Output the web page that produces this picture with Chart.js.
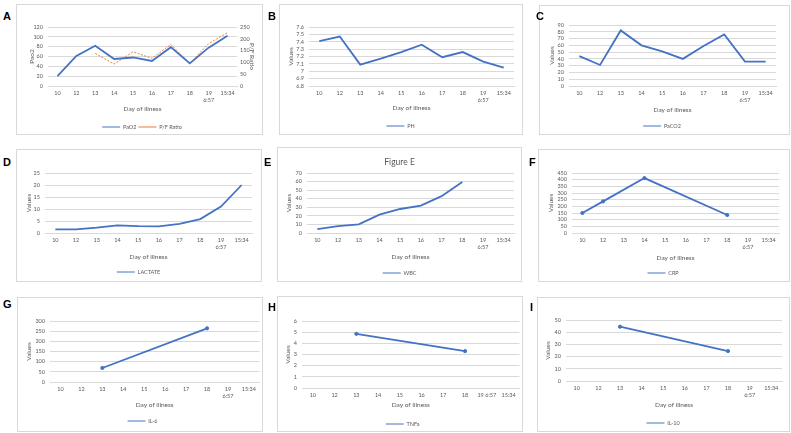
<!DOCTYPE html>
<html>
<head>
<meta charset="utf-8">
<script src="https://cdn.jsdelivr.net/npm/chart.js@4.4.0/dist/chart.umd.min.js"></script>
<style>
  body { margin: 0; background: #fff; width: 791px; height: 433px; position: relative; overflow: hidden; }
  .panel { position: absolute; border: 1px solid #d9d9d9; box-sizing: border-box; }
  .panel canvas { position: absolute; left: 0; top: 0; }
  .letter { position: absolute; font: bold 11px "Liberation Sans", Arial, sans-serif; color: #000; line-height: 1; }
</style>
</head>
<body>
<script>
// day of illness categories
const dayLabels = ["10", "12", "13", "14", "15", "16", "17", "18", ["19", "6:57"], "15:34"];
const dayLabelsH = ["10", "12", "13", "14", "15", "16", "17", "18", "19 6:57", "15:34"];

// series values
const pao2 = [20, 61, 82, 55, 58, 51, 79, 46, 78, 102];
const pfRatio = [null, null, 138, 93, 145, 117, 176, 96, 180, 226];
const ph = [7.41, 7.47, 7.09, 7.17, 7.26, 7.36, 7.19, 7.26, 7.13, 7.05];
const paco2 = [44, 31, 82, 60, 51, 40, 59, 76, 36, 36];
const lactate = [1.5, 1.5, 2.2, 3.2, 2.9, 2.8, 3.8, 5.8, 11, 20];
const wbc = [4.5, 8, 10, 21.5, 28, 32, 43, 59.5, null, null];
const crp = [150, 237, null, 412, null, null, null, 135, null, null];
const il6 = [null, null, 69, null, null, null, null, 264, null, null];
const tnfa = [null, null, 4.85, null, null, null, null, 3.3, null, null];
const il10 = [null, null, 44.5, null, null, null, null, 24.5, null, null];

const BLUE = "#4472c4";
const ORANGE = "#ed7d31";
const GRID = "#d9d9d9";
const TXT = "#595959";

Chart.defaults.font.family = "Lato, 'Liberation Sans', sans-serif";
Chart.defaults.color = TXT;
Chart.defaults.animation = false;

const TICK = 5.5;
const AXT = 6.5;
const LEG = 5.5;
const LEG_PAD = 2;

function addLetter(text, x, y) {
  const d = document.createElement("div");
  d.className = "letter";
  d.textContent = text;
  d.style.left = x + "px";
  d.style.top = y + "px";
  document.body.appendChild(d);
}

function makeSeries(label, data, opts = {}) {
  return {
    label,
    data,
    borderColor: opts.color || BLUE,
    backgroundColor: opts.color || BLUE,
    borderWidth: opts.width || 1.8,
    borderDash: opts.dash || [],
    pointRadius: opts.markers ? 1.6 : 0,
    pointBorderWidth: 1,
    pointHoverRadius: 0,
    pointStyle: "circle",
    yAxisID: opts.axis || "y",
    spanGaps: true,
    tension: 0,
  };
}

function makePanel(spec) {
  const box = spec.box;
  const wrap = document.createElement("div");
  wrap.className = "panel";
  wrap.style.left = box.l + "px";
  wrap.style.top = box.t + "px";
  wrap.style.width = box.w + "px";
  wrap.style.height = box.h + "px";
  const canvas = document.createElement("canvas");
  const W = box.w - 2;
  const H = box.h - 2;
  canvas.width = W;
  canvas.height = H;
  canvas.style.width = W + "px";
  canvas.style.height = H + "px";
  wrap.appendChild(canvas);
  document.body.appendChild(wrap);

  const ox = box.l + 1;
  const oy = box.t + 1;
  const a = spec.area;
  const YW = a.l - spec.yTitleX + AXT * 0.6;
  const RW = spec.y1 ? spec.y1TitleX - a.r + AXT * 0.6 : 0;
  const XH = spec.legendY - a.b - LEG_PAD - LEG / 2;
  const xTitlePadB = XH - (spec.xTitleY - a.b) - AXT * 0.6;
  const LH = LEG + LEG_PAD + 10;

  let topPad = a.t - oy;
  let titleOpts = { display: false };
  if (spec.title) {
    topPad = spec.titleY - oy - 5.1;
    titleOpts = {
      display: true,
      text: spec.title,
      color: TXT,
      font: { size: 8.5, weight: "normal" },
      padding: { top: 0, bottom: a.t - oy - topPad - 10.2 },
    };
  }

  const scales = {
    x: {
      type: "category",
      offset: true,
      grid: { display: false, drawTicks: false },
      border: { display: true, color: GRID },
      ticks: { color: TXT, font: { size: TICK }, padding: 4, maxRotation: 0, autoSkip: false },
      title: {
        display: true,
        text: spec.xTitle || "Day of illness",
        color: TXT,
        font: { size: AXT },
        padding: { top: 0, bottom: xTitlePadB },
      },
      afterFit(scale) {
        scale.height = XH;
      },
    },
    y: {
      position: "left",
      min: spec.y.min,
      max: spec.y.max,
      grid: { color: GRID, drawTicks: false },
      border: { display: false },
      ticks: {
        stepSize: spec.y.step,
        autoSkip: false,
        color: TXT,
        font: { size: TICK },
        padding: 5,
        callback: (v) => String(Math.round(v * 10) / 10),
      },
      title: { display: true, text: spec.y.title || "Values", color: TXT, font: { size: AXT }, padding: 0 },
      afterFit(scale) {
        scale.width = YW;
      },
    },
  };
  if (spec.y1) {
    scales.y1 = {
      position: "right",
      min: spec.y1.min,
      max: spec.y1.max,
      grid: { display: false, drawTicks: false },
      border: { display: false },
      ticks: { stepSize: spec.y1.step, autoSkip: false, color: TXT, font: { size: TICK }, padding: 3 },
      title: { display: true, text: spec.y1.title, color: TXT, font: { size: AXT }, padding: 0 },
      afterFit(scale) {
        scale.width = RW;
      },
    };
  }

  return new Chart(canvas, {
    type: "line",
    data: { labels: spec.labels, datasets: spec.datasets },
    options: {
      responsive: false,
      layout: {
        padding: {
          left: a.l - ox - YW,
          right: ox + W - a.r - RW,
          top: topPad,
          bottom: oy + H - a.b - XH - LH,
        },
      },
      scales,
      plugins: {
        title: titleOpts,
        tooltip: { enabled: false },
        legend: {
          position: "bottom",
          labels: {
            usePointStyle: true,
            pointStyle: "line",
            pointStyleWidth: 18,
            color: TXT,
            font: { size: LEG },
            padding: LEG_PAD,
          },
        },
      },
    },
  });
}

// A
makePanel({
  box: { l: 16, t: 4, w: 247, h: 131 },
  area: { l: 48, r: 237, t: 27, b: 86 },
  yTitleX: 32, y1TitleX: 252, xTitleY: 109, legendY: 127,
  labels: dayLabels,
  y: { min: 0, max: 120, step: 20, title: "Pao2" },
  y1: { min: 0, max: 250, step: 50, title: "P/F Ratio" },
  datasets: [
    makeSeries("PaO2", pao2),
    makeSeries("P/F Ratio", pfRatio, { color: ORANGE, dash: [2, 1.5], width: 1, axis: "y1" }),
  ],
});
// B
makePanel({
  box: { l: 279, t: 4, w: 244, h: 131 },
  area: { l: 309, r: 514, t: 27, b: 86 },
  yTitleX: 291, xTitleY: 108, legendY: 126,
  labels: dayLabels,
  y: { min: 6.8, max: 7.6, step: 0.1 },
  datasets: [makeSeries("PH", ph)],
});
// C
makePanel({
  box: { l: 539, t: 5, w: 251, h: 130 },
  area: { l: 569, r: 776, t: 25, b: 86 },
  yTitleX: 552, xTitleY: 110, legendY: 126,
  labels: dayLabels,
  y: { min: 0, max: 90, step: 10 },
  datasets: [makeSeries("PaCO2", paco2)],
});
// D
makePanel({
  box: { l: 16, t: 149, w: 246, h: 133 },
  area: { l: 45, r: 252, t: 173, b: 233 },
  yTitleX: 29, xTitleY: 257, legendY: 272,
  labels: dayLabels,
  y: { min: 0, max: 25, step: 5 },
  datasets: [makeSeries("LACTATE", lactate)],
});
// E
makePanel({
  box: { l: 277, t: 147, w: 245, h: 135 },
  area: { l: 307, r: 514, t: 173, b: 233 },
  yTitleX: 289, xTitleY: 257, legendY: 273,
  title: "Figure E", titleY: 162,
  labels: dayLabels,
  y: { min: 0, max: 70, step: 10 },
  datasets: [makeSeries("WBC", wbc)],
});
// F
makePanel({
  box: { l: 538, t: 149, w: 252, h: 133 },
  area: { l: 572, r: 779, t: 173, b: 233 },
  yTitleX: 551, xTitleY: 258, legendY: 273,
  labels: dayLabels,
  y: { min: 0, max: 450, step: 50 },
  datasets: [makeSeries("CRP", crp, { markers: true })],
});
// G
makePanel({
  box: { l: 17, t: 297, w: 246, h: 135 },
  area: { l: 50, r: 260, t: 321, b: 382 },
  yTitleX: 29, xTitleY: 405, legendY: 421,
  labels: dayLabels,
  y: { min: 0, max: 300, step: 50 },
  datasets: [makeSeries("IL-6", il6, { markers: true })],
});
// H
makePanel({
  box: { l: 277, t: 296, w: 246, h: 136 },
  area: { l: 302, r: 521, t: 321, b: 388 },
  yTitleX: 288, xTitleY: 405, legendY: 424,
  xTitle: "Day of Illness",
  labels: dayLabelsH,
  y: { min: 0, max: 6, step: 1 },
  datasets: [makeSeries("TNFa", tnfa, { markers: true })],
});
// I
makePanel({
  box: { l: 537, t: 297, w: 253, h: 135 },
  area: { l: 566, r: 782, t: 320, b: 381 },
  yTitleX: 548, xTitleY: 405, legendY: 423,
  labels: dayLabels,
  y: { min: 0, max: 50, step: 10 },
  datasets: [makeSeries("IL-10", il10, { markers: true })],
});

addLetter("A", 3, 11);
addLetter("B", 268, 11);
addLetter("C", 536, 11);
addLetter("D", 3, 157);
addLetter("E", 264, 157);
addLetter("F", 529, 157);
addLetter("G", 3, 299);
addLetter("H", 268, 302);
addLetter("I", 530, 302);
</script>
</body>
</html>
